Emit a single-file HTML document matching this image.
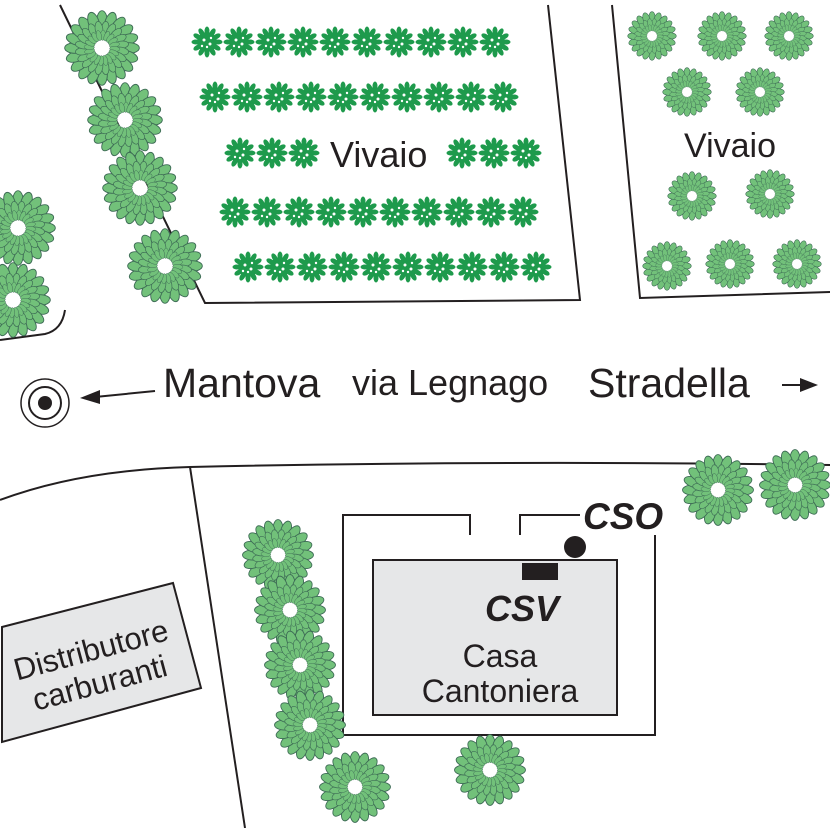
<!DOCTYPE html>
<html><head><meta charset="utf-8"><style>
html,body{margin:0;padding:0;background:#fff}
svg{display:block}
text{font-family:"Liberation Sans",sans-serif;fill:#231f20}
</style></head><body>
<svg width="830" height="828" viewBox="0 0 830 828" xmlns="http://www.w3.org/2000/svg">
<defs>
<g id="leaf"><ellipse cx="0" cy="-20" rx="4" ry="8"/></g>
<g id="ring1">
<use href="#leaf" transform="rotate(0)"/><use href="#leaf" transform="rotate(18)"/><use href="#leaf" transform="rotate(36)"/><use href="#leaf" transform="rotate(54)"/><use href="#leaf" transform="rotate(72)"/><use href="#leaf" transform="rotate(90)"/><use href="#leaf" transform="rotate(108)"/><use href="#leaf" transform="rotate(126)"/><use href="#leaf" transform="rotate(144)"/><use href="#leaf" transform="rotate(162)"/><use href="#leaf" transform="rotate(180)"/><use href="#leaf" transform="rotate(198)"/><use href="#leaf" transform="rotate(216)"/><use href="#leaf" transform="rotate(234)"/><use href="#leaf" transform="rotate(252)"/><use href="#leaf" transform="rotate(270)"/><use href="#leaf" transform="rotate(288)"/><use href="#leaf" transform="rotate(306)"/><use href="#leaf" transform="rotate(324)"/><use href="#leaf" transform="rotate(342)"/>
</g>
<symbol id="tree" viewBox="-30 -30 60 60" overflow="visible">
<g fill="#72c17a" stroke="#3d6b55" stroke-width="0.7">
<use href="#ring1"/>
<use href="#ring1" transform="rotate(9) scale(0.72)"/>
<use href="#ring1" transform="rotate(4) scale(0.48)"/>
</g>
</symbol>
<g id="bl"><ellipse cx="0" cy="-11" rx="2.5" ry="4.5"/></g>
<symbol id="bush" viewBox="-16 -16 32 32" overflow="visible">
<g fill="#1e9a4c">
<circle r="10"/>
<use href="#bl" transform="rotate(0)"/><use href="#bl" transform="rotate(30)"/><use href="#bl" transform="rotate(60)"/><use href="#bl" transform="rotate(90)"/><use href="#bl" transform="rotate(120)"/><use href="#bl" transform="rotate(150)"/><use href="#bl" transform="rotate(180)"/><use href="#bl" transform="rotate(210)"/><use href="#bl" transform="rotate(240)"/><use href="#bl" transform="rotate(270)"/><use href="#bl" transform="rotate(300)"/><use href="#bl" transform="rotate(330)"/>
</g>
<g fill="#fff"><circle cx="-3" cy="-2" r="1.5"/><circle cx="3" cy="2" r="1.5"/><circle cx="0" cy="5" r="1.2"/><circle cx="4" cy="-4" r="1.2"/><circle cx="-5" cy="4" r="1.2"/></g>
</symbol>
</defs>

<g fill="none" stroke="#231f20" stroke-width="2">
<polyline points="60,5 205,303 580,300 548,5"/>
<polyline points="612,5 640,298 830,292"/>
<path d="M0,340 L45,334 Q62,330 65,310"/>
<path d="M0,500 Q80,470 190,467 Q500,460 830,465"/>
<line x1="190" y1="467" x2="245" y2="828"/>
<polyline points="470,535 470,515 343,515 343,735 655,735 655,535"/>
<polyline points="520,535 520,515 580,515"/>
</g>

<g>
<use href="#bush" x="191" y="26" width="32" height="32"/><use href="#bush" x="223" y="26" width="32" height="32"/><use href="#bush" x="255" y="26" width="32" height="32"/><use href="#bush" x="287" y="26" width="32" height="32"/><use href="#bush" x="319" y="26" width="32" height="32"/><use href="#bush" x="351" y="26" width="32" height="32"/><use href="#bush" x="383" y="26" width="32" height="32"/><use href="#bush" x="415" y="26" width="32" height="32"/><use href="#bush" x="447" y="26" width="32" height="32"/><use href="#bush" x="479" y="26" width="32" height="32"/>
<use href="#bush" x="199" y="81" width="32" height="32"/><use href="#bush" x="231" y="81" width="32" height="32"/><use href="#bush" x="263" y="81" width="32" height="32"/><use href="#bush" x="295" y="81" width="32" height="32"/><use href="#bush" x="327" y="81" width="32" height="32"/><use href="#bush" x="359" y="81" width="32" height="32"/><use href="#bush" x="391" y="81" width="32" height="32"/><use href="#bush" x="423" y="81" width="32" height="32"/><use href="#bush" x="455" y="81" width="32" height="32"/><use href="#bush" x="487" y="81" width="32" height="32"/>
<use href="#bush" x="224" y="137" width="32" height="32"/><use href="#bush" x="256" y="137" width="32" height="32"/><use href="#bush" x="288" y="137" width="32" height="32"/><use href="#bush" x="446" y="137" width="32" height="32"/><use href="#bush" x="478" y="137" width="32" height="32"/><use href="#bush" x="510" y="137" width="32" height="32"/>
<use href="#bush" x="219" y="196" width="32" height="32"/><use href="#bush" x="251" y="196" width="32" height="32"/><use href="#bush" x="283" y="196" width="32" height="32"/><use href="#bush" x="315" y="196" width="32" height="32"/><use href="#bush" x="347" y="196" width="32" height="32"/><use href="#bush" x="379" y="196" width="32" height="32"/><use href="#bush" x="411" y="196" width="32" height="32"/><use href="#bush" x="443" y="196" width="32" height="32"/><use href="#bush" x="475" y="196" width="32" height="32"/><use href="#bush" x="507" y="196" width="32" height="32"/>
<use href="#bush" x="232" y="251" width="32" height="32"/><use href="#bush" x="264" y="251" width="32" height="32"/><use href="#bush" x="296" y="251" width="32" height="32"/><use href="#bush" x="328" y="251" width="32" height="32"/><use href="#bush" x="360" y="251" width="32" height="32"/><use href="#bush" x="392" y="251" width="32" height="32"/><use href="#bush" x="424" y="251" width="32" height="32"/><use href="#bush" x="456" y="251" width="32" height="32"/><use href="#bush" x="488" y="251" width="32" height="32"/><use href="#bush" x="520" y="251" width="32" height="32"/>
</g>

<g>
<use href="#tree" x="62" y="8" width="80" height="80"/>
<use href="#tree" x="85" y="80" width="80" height="80"/>
<use href="#tree" x="100" y="148" width="80" height="80"/>
<use href="#tree" x="125" y="226" width="80" height="80"/>
<use href="#tree" x="-22" y="188" width="80" height="80"/>
<use href="#tree" x="-27" y="260" width="80" height="80"/>
<use href="#tree" x="626" y="10" width="52" height="52"/><use href="#tree" x="696" y="10" width="52" height="52"/><use href="#tree" x="763" y="10" width="52" height="52"/>
<use href="#tree" x="661" y="66" width="52" height="52"/><use href="#tree" x="734" y="66" width="52" height="52"/>
<use href="#tree" x="666" y="170" width="52" height="52"/><use href="#tree" x="744" y="168" width="52" height="52"/>
<use href="#tree" x="641" y="240" width="52" height="52"/><use href="#tree" x="704" y="238" width="52" height="52"/><use href="#tree" x="771" y="238" width="52" height="52"/>
<use href="#tree" x="680" y="452" width="76" height="76"/><use href="#tree" x="757" y="447" width="76" height="76"/>
<use href="#tree" x="240" y="517" width="76" height="76"/>
<use href="#tree" x="252" y="572" width="76" height="76"/>
<use href="#tree" x="262" y="627" width="76" height="76"/>
<use href="#tree" x="272" y="687" width="76" height="76"/>
<use href="#tree" x="317" y="749" width="76" height="76"/>
<use href="#tree" x="452" y="732" width="76" height="76"/>
</g>

<text x="330" y="167" font-size="36">Vivaio</text>
<text x="684" y="157" font-size="34">Vivaio</text>

<circle cx="45" cy="403" r="24" fill="none" stroke="#231f20" stroke-width="1.5"/>
<circle cx="45" cy="403" r="16" fill="none" stroke="#231f20" stroke-width="2"/>
<circle cx="45" cy="403" r="7" fill="#231f20"/>
<line x1="155" y1="391" x2="95" y2="397" stroke="#231f20" stroke-width="2"/>
<polygon points="80,398 100,390 100,404" fill="#231f20"/>
<text x="163" y="397" font-size="41">Mantova</text>
<text x="352" y="395" font-size="36">via Legnago</text>
<text x="588" y="397" font-size="41">Stradella</text>
<line x1="782" y1="385" x2="805" y2="385" stroke="#231f20" stroke-width="2"/>
<polygon points="818,385 800,378 800,392" fill="#231f20"/>

<rect x="373" y="560" width="244" height="155" fill="#e6e7e8" stroke="#231f20" stroke-width="2"/>
<rect x="522" y="563" width="36" height="17" fill="#231f20"/>
<circle cx="575" cy="547" r="11" fill="#231f20"/>
<text x="583" y="529" font-size="37" font-weight="bold" font-style="italic">CSO</text>
<text x="485" y="621" font-size="36" font-weight="bold" font-style="italic">CSV</text>
<text x="500" y="667" font-size="32" text-anchor="middle">Casa</text>
<text x="500" y="702" font-size="32" text-anchor="middle">Cantoniera</text>

<polygon points="2,627 173,583 201,688 2,742" fill="#e6e7e8" stroke="#231f20" stroke-width="2"/>
<g transform="translate(95,665) rotate(-15)">
<text x="0" y="-5" font-size="31" text-anchor="middle">Distributore</text>
<text x="0" y="29" font-size="31" text-anchor="middle">carburanti</text>
</g>
</svg>
</body></html>
